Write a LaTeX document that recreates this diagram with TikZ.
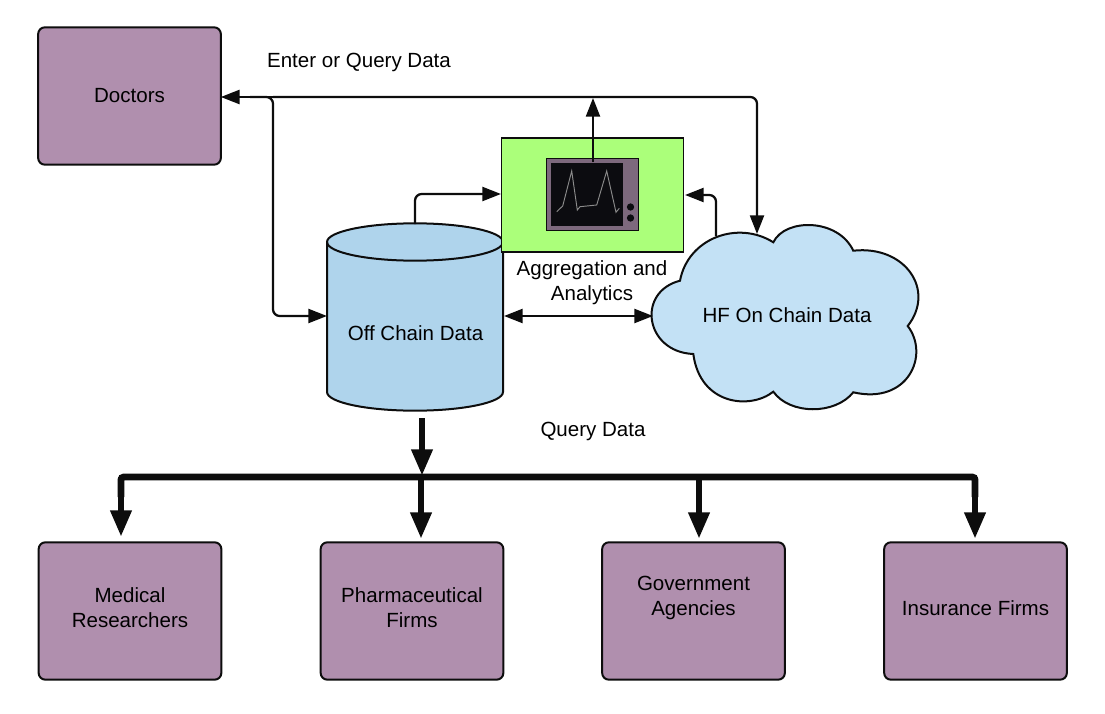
\documentclass[tikz,border=0pt]{standalone}
\usepackage{fontspec}
\setmainfont{Liberation Sans}
\usetikzlibrary{arrows.meta}
\definecolor{firmcolor}{RGB}{176,143,174}
\definecolor{offcolor}{RGB}{175,212,236}
\definecolor{oncolor}{RGB}{195,225,245}
\definecolor{panelcolor}{RGB}{171,255,122}
\definecolor{framecolor}{RGB}{125,105,125}
\definecolor{screencolor}{RGB}{12,12,16}
\begin{document}
\begin{tikzpicture}
	[x=0.75pt,y=-0.75pt,
	font=\fontsize{15.4}{18.7}\selectfont,
	firm/.style={rectangle,rounded corners=5pt,draw=black!95,fill=firmcolor,line width=1.5pt,
		minimum width=137pt,minimum height=103pt,inner sep=0pt,outer sep=0pt,align=center},
	link/.style={draw=black!95,line width=1.7pt,rounded corners=5pt,
		-{Triangle[length=14pt,width=10.5pt]}},
	linkboth/.style={draw=black!95,line width=1.7pt,
		{Triangle[length=14pt,width=10.5pt]}-{Triangle[length=14pt,width=10.5pt]}},
	heavy/.style={draw=black!95,line width=5pt,
		-{Triangle[length=20pt,width=15pt]}},
	note/.style={inner sep=0pt,align=center}]
	\useasboundingbox (0,0) rectangle (1105,713);

	%firms
	\node (doctors) at (129.5,96) [firm] {Doctors};
	\node (medical) at (130,611) [firm] {};
	\node (pharma) at (412,611) [firm] {};
	\node (gov) at (693.5,611) [firm] {};
	\node (insurance) at (975.5,611) [firm] {};
	\node (medicaltext) at (130,608) [note] {Medical\\Researchers};
	\node (pharmatext) at (412,608) [note] {Pharmaceutical\\Firms};
	\node (govtext) at (693.5,598) [note] {Government\\Agencies};
	\node (insurancetext) at (975.5,608) [note] {Insurance Firms};

	%off chain store
	\draw[draw=black!95,fill=offcolor,line width=1.5pt]
		(327,242) -- (327,392) arc[start angle=180,end angle=360,x radius=66pt,y radius=14pt]
		-- (503,242) arc[start angle=0,end angle=180,x radius=66pt,y radius=14pt] -- cycle;
	\draw[draw=black!95,line width=1.5pt]
		(327,242) arc[start angle=180,end angle=360,x radius=66pt,y radius=14pt];
	\node (offtext) at (415.5,333) [note] {Off Chain Data};

	%aggregation panel and monitor
	\node (panel) at (592.5,195) [rectangle,draw=black!95,fill=panelcolor,line width=0.8pt,
		minimum width=137pt,minimum height=85.5pt,inner sep=0pt,outer sep=0pt] {};
	\node (monitor) at (592,194.5) [rectangle,draw=black!95,fill=framecolor,line width=0.6pt,
		minimum width=69pt,minimum height=54.5pt,inner sep=0pt,outer sep=0pt] {};
	\node (screen) at (587,194.5) [rectangle,fill=screencolor,
		minimum width=54pt,minimum height=47.5pt,inner sep=0pt,outer sep=0pt] {};
	\node (knobone) at (630.5,207) [circle,fill=screencolor,minimum size=5.5pt,inner sep=0pt] {};
	\node (knobtwo) at (630.5,218) [circle,fill=screencolor,minimum size=5.5pt,inner sep=0pt] {};
	\draw[black!45,line width=0.7pt] (556.7,211.7) -- (562.7,206) -- (571.7,171) -- (577.3,210)
		-- (580,206.7) -- (596.7,205) -- (606.7,171) -- (616,212.3) -- (619.3,208.3);

	%on chain cloud
	\draw[draw=black!95,fill=oncolor,line width=1.5pt]
		(680,280.7) .. controls (688,238) and (738,220) .. (773.3,242.3)
		.. controls (785,218) and (838,218) .. (853.3,250.7)
		.. controls (905,245) and (936,290) .. (907.7,326)
		.. controls (930,355) and (908,405) .. (853.3,392.3)
		.. controls (835,415) and (790,415) .. (773.3,391.7)
		.. controls (750,410) and (700,405) .. (693.3,354)
		.. controls (645,352) and (636,292) .. (680,280.7) -- cycle;
	\node (hftext) at (787,315) [note] {HF On Chain Data};

	%texts
	\node (entertext) at (359,62.5) [note] {Enter or Query Data};
	\node (querytext) at (593,431.5) [note] {Query Data};
	\node (aggrtext) at (592,282.5) [note] {Aggregation and\\Analytics};

	%thin connectors
	\coordinate (hubwest) at (250,97);
	\coordinate (hub) at (273,97);
	\coordinate (topcorner) at (757,97);
	\coordinate (cloudtop) at (757,234);
	\coordinate (offleft) at (327,316);
	\coordinate (monitortop) at (593,162);
	\coordinate (hubup) at (593,98);
	\coordinate (offtop) at (415,224);
	\coordinate (panelleft) at (501,194);
	\coordinate (cloudleft) at (716,236);
	\coordinate (panelright) at (685,195);
	\coordinate (offright) at (504,316);
	\coordinate (cloudside) at (653,316);
	\draw[link] (hub) -- (doctors.east |- hub);
	\draw[link] (hubwest) -- (hub) -- (hub |- offleft) -- (offleft);
	\draw[link] (hub) -- (topcorner) -- (cloudtop);
	\draw[link] (monitortop) -- (hubup);
	\draw[link] (offtop) -- (offtop |- panelleft) -- (panelleft);
	\draw[link] (cloudleft) -- (cloudleft |- panelright) -- (panelright);
	\draw[linkboth] (offright) -- (cloudside);

	%thick connectors
	\coordinate (offbottom) at (422,418);
	\coordinate (busin) at (422,476);
	\coordinate (busleft) at (121,477);
	\coordinate (busright) at (975,477);
	\coordinate (tipmedical) at (121,537);
	\coordinate (tippharma) at (421,539);
	\coordinate (tipgov) at (699,539);
	\coordinate (tipinsurance) at (975,539);
	\draw[heavy] (offbottom) -- (busin);
	\draw[draw=black!95,line width=5pt,rounded corners=2pt] (tipmedical |- busleft) ++(0,20) -- (busleft) -- (busright) -- ++(0,20);
	\draw[heavy] (busleft) -- (tipmedical);
	\draw[heavy] (tippharma |- busleft) -- (tippharma);
	\draw[heavy] (tipgov |- busleft) -- (tipgov);
	\draw[heavy] (busright) -- (tipinsurance);
\end{tikzpicture}
\end{document}
